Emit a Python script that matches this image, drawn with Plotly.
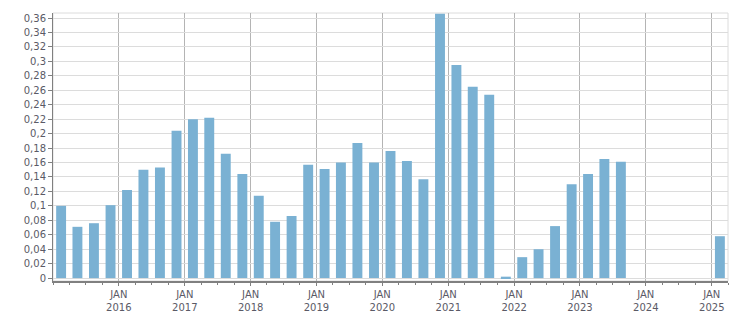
import plotly.graph_objects as go
import pandas as pd

quarters = [
    "2015Q1", "2015Q2", "2015Q3", "2015Q4",
    "2016Q1", "2016Q2", "2016Q3", "2016Q4",
    "2017Q1", "2017Q2", "2017Q3", "2017Q4",
    "2018Q1", "2018Q2", "2018Q3", "2018Q4",
    "2019Q1", "2019Q2", "2019Q3", "2019Q4",
    "2020Q1", "2020Q2", "2020Q3", "2020Q4",
    "2021Q1", "2021Q2", "2021Q3", "2021Q4",
    "2022Q1", "2022Q2", "2022Q3", "2022Q4",
    "2023Q1", "2023Q2", "2023Q3", "2023Q4",
    "2024Q1", "2024Q2", "2024Q3", "2024Q4",
    "2025Q1",
]
values = [
    0.100, 0.071, 0.076, 0.101,
    0.122, 0.150, 0.153, 0.204,
    0.220, 0.222, 0.172, 0.144,
    0.114, 0.078, 0.086, 0.157,
    0.151, 0.160, 0.187, 0.160,
    0.176, 0.162, 0.137, 0.366,
    0.295, 0.265, 0.254, 0.002,
    0.029, 0.040, 0.072, 0.130,
    0.144, 0.165, 0.161, None,
    None, None, None, None,
    0.058,
]
years = list(range(2016, 2026))
tick_vals = [f"{y}-01-01" for y in years]
month_text = ["JAN" for y in years]
year_text = [str(y) for y in years]
y_ticks = [round(i * 0.02, 2) for i in range(19)]

x_dates = [pd.Period(q, freq="Q").start_time.strftime("%Y-%m-%d") for q in quarters]
x_range = ["2015-01-01", "2025-04-01"]

fig = go.Figure()
fig.add_trace(go.Bar(
    x=x_dates, y=values,
    xperiod="M3", xperiodalignment="middle",
    width=55 * 86400000,
    marker=dict(color="#7AB1D3", line=dict(width=0)),
    hoverinfo="x+y",
))
# invisible companion trace so the year-label axis gets drawn
fig.add_trace(go.Scatter(
    x=x_dates, y=values, xaxis="x2", yaxis="y",
    mode="markers", marker=dict(opacity=0, size=1),
    hoverinfo="skip", showlegend=False,
))

font_family = "DejaVu Sans, Verdana, sans-serif"
label_color = "#5a5a66"
fig.update_layout(
    width=751, height=313,
    margin=dict(l=53, r=23, t=13, b=32),
    paper_bgcolor="white", plot_bgcolor="white",
    separators=", ",
    showlegend=False,
    font=dict(family=font_family, size=10, color=label_color),
    shapes=[dict(type="rect", xref="paper", yref="paper", x0=0, x1=1, y0=0, y1=1,
                 line=dict(color="#dcdcdc", width=1), layer="below")],
    xaxis=dict(
        type="date", automargin=False, range=x_range,
        tickmode="array", tickvals=tick_vals, ticktext=month_text,
        showgrid=True, gridcolor="#b4b4b4", gridwidth=1,
        showline=True, linecolor="#808080", linewidth=2,
        ticks="outside", ticklen=3, tickcolor="#808080", tickwidth=1,
        minor=dict(dtick="M3", tick0="2015-01-01", ticks="outside", ticklen=2,
                   tickcolor="#808080", showgrid=False),
        tickfont=dict(size=10, color=label_color),
        zeroline=False,
    ),
    xaxis2=dict(
        type="date", automargin=False, range=x_range,
        overlaying="x", side="bottom", anchor="y",
        tickmode="array", tickvals=tick_vals, ticktext=year_text,
        showgrid=False, showline=False, ticks="", zeroline=False,
        ticklabelstandoff=19,
        tickfont=dict(size=10, color=label_color),
    ),
    yaxis=dict(
        automargin=False, range=[-0.004, 0.367],
        tickmode="array", tickvals=y_ticks,
        ticktext=[("0" if v == 0 else f"{v:g}".replace(".", ",")) for v in y_ticks],
        showgrid=True, gridcolor="#dcdcdc", gridwidth=1,
        showline=True, linecolor="#808080", linewidth=1,
        ticks="outside", ticklen=4, tickcolor="#808080",
        tickfont=dict(size=10, color=label_color),
        zeroline=False,
    ),
)

fig.write_html("out.html")
